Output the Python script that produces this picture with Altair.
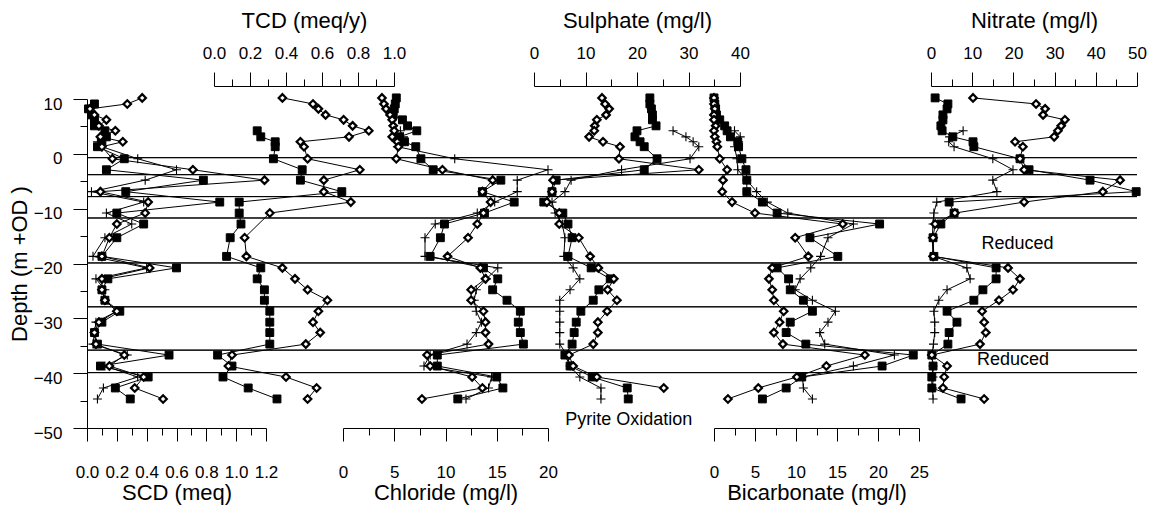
import altair as alt
import pandas as pd

N = None
FONT = "Liberation Sans, Arial, sans-serif"

# Sampling depths (m +OD), top to bottom
DEPTHS = [10.2, 9.1, 8.2, 7.1, 6.2, 5.1, 4.2, 3.1, 2.2, 1.3, -0.9, -2.9, -4.8, -6.9, -8.8, -10.8,
          -12.8, -15.3, -18.7, -20.8, -22.8, -24.8, -26.7, -28.7, -30.7, -32.6, -34.7, -36.7,
          -38.7, -40.7, -42.7, -44.7]

# SCD (meq)
SCD_SQUARE = [N, 0.05, 0.01, 0.03, 0.05, 0.05, 0.12, 0.13, 0.10, 0.07, 0.25, 0.13, 0.78, 0.26, 0.89, 0.20,
              0.38, 0.20, 0.10, 0.60, 0.14, 0.10, 0.12, 0.22, 0.10, 0.05, 0.07, 0.55, 0.09, 0.41, 0.19, 0.29]
SCD_PLUS = [N, N, N, N, N, N, N, 0.09, 0.07, 0.10, 0.34, 0.60, 0.39, 0.03, 0.38, 0.13,
            0.30, 0.12, 0.04, 0.40, 0.06, 0.12, 0.12, 0.20, 0.06, 0.05, 0.04, 0.27, 0.12, 0.34, 0.11, 0.07]
SCD_DIAMOND = [0.37, 0.27, 0.02, 0.05, 0.13, 0.08, 0.19, 0.09, 0.24, 0.10, 0.17, 0.71, 1.19, 0.09, 0.41, 0.39,
               0.20, 0.15, 0.10, 0.42, 0.10, 0.10, 0.12, 0.20, 0.08, 0.05, 0.06, 0.25, 0.15, 0.38, 0.32, 0.51]

# TCD (meq/y)
TCD_SQUARE = [N, N, N, N, N, N, 0.24, 0.26, 0.34, 0.34, 0.33, 0.49, 0.48, 0.71, 0.14, 0.14,
              0.15, 0.09, 0.07, 0.26, 0.24, 0.28, 0.28, 0.31, 0.31, 0.31, 0.31, 0.02, 0.10, 0.05, 0.19, 0.35]
TCD_DIAMOND = [0.38, 0.55, 0.58, 0.62, 0.72, 0.77, 0.86, 0.75, 0.48, 0.50, 0.52, 0.81, 0.61, 0.61, 0.76, 0.31,
               N, 0.17, 0.18, 0.38, 0.45, 0.52, 0.63, 0.58, 0.55, 0.59, 0.51, 0.10, 0.08, 0.40, 0.57, 0.52]

# Chloride (mg/l)
CL_SQUARE = [5.2, 5.1, 5.0, 4.9, 5.8, 6.3, 7.2, 5.5, 6.0, 7.1, 7.6, 8.8, 15.4, 13.6, 16.7, 13.8,
             9.9, 9.5, 8.5, 13.7, 15.1, 14.6, 16.0, 17.3, 17.1, 17.3, 17.6, 9.2, 9.2, 15.0, 15.6, 11.2]
CL_PLUS = [N, N, N, N, N, N, 5.6, 5.9, 5.7, 5.3, 10.9, 20.0, 17.0, 17.0, 14.8, 13.1,
           9.0, 8.0, 8.0, 15.1, 14.0, 13.0, 12.8, 13.0, 13.5, 13.0, 12.1, 8.5, 7.9, 14.5, 14.2, 12.0]
CL_DIAMOND = [3.8, 4.0, 4.2, 4.6, 4.8, 4.9, 5.0, 4.8, 5.3, 5.4, 5.2, 9.7, 14.6, 13.6, 14.4, 13.7,
              13.1, 12.2, 10.2, 13.4, 13.9, 12.5, 12.5, 13.7, 13.9, 13.9, 14.2, 8.2, 8.5, 12.6, 13.6, 7.7]

# Sulphate (mg/l)
SO4_SQUARE = [22.5, 22.5, 22.8, 23.0, 23.0, 23.7, 20.0, 19.6, 20.6, 21.4, 23.9, 21.4, 4.3, 3.5, 1.9, 5.6,
              6.6, 7.4, 6.6, 11.1, 14.8, 12.6, 11.5, 9.1, 8.2, 7.8, 7.4, 6.0, 7.0, 11.3, 18.1, 18.3]
SO4_PLUS = [N, N, N, N, N, N, 27.0, 29.5, 30.9, 32.0, 30.3, 17.0, 7.2, 6.0, 3.5, 4.1,
            5.5, 6.0, 5.8, 7.6, 8.9, 7.0, 5.0, 5.0, 5.0, 5.0, 5.0, 6.4, 7.0, 8.9, 13.0, 13.0]
SO4_DIAMOND = [13.2, 13.8, 14.6, 14.0, 12.2, 11.8, 11.7, 10.7, 13.4, 16.7, 16.5, 32.0, 3.7, 3.5, 2.5, 4.9,
               4.9, 8.7, 10.9, 12.5, 15.5, 14.3, 16.1, 14.2, 12.4, 12.4, 11.5, 6.8, 7.6, 12.2, 25.2, N]

# Bicarbonate (mg/l)
HCO3_SQUARE = [0.0, 0.1, 0.2, 0.3, 0.7, 1.3, 1.6, 2.0, 2.9, 3.0, 3.4, 3.9, 4.0, 4.0, 5.9, 7.7,
               20.2, 11.7, 15.1, 7.7, 9.1, 9.3, 10.9, 12.0, 9.3, 8.8, 11.2, 24.3, 20.5, 10.7, 8.8, 5.9]
HCO3_PLUS = [N, N, N, N, N, N, 2.5, 3.2, 3.0, 2.5, 2.8, 2.9, 4.0, 5.2, 6.5, 9.0,
             17.0, 13.9, 13.0, 11.8, 10.5, 9.9, 12.0, 14.8, 13.9, 12.9, 13.5, 22.0, 17.0, 10.8, 10.9, 12.0]
HCO3_DIAMOND = [0.0, 0.0, 0.1, 0.0, 0.0, 0.2, 0.0, 0.1, 0.3, 0.4, 0.7, 1.6, 1.1, 1.0, 2.2, 5.0,
                15.7, 9.9, 11.5, 7.1, 6.7, 7.1, 7.3, 8.5, 8.0, 7.3, 8.4, 18.4, 13.7, 10.1, 5.4, 1.7]

# Nitrate (mg/l)
NO3_SQUARE = [1.0, 4.1, 3.9, 2.9, 2.9, 2.4, 2.7, 5.3, 10.2, 10.4, 21.6, 23.8, 38.6, 49.8, 4.4, 5.6,
              2.4, 0.5, 0.7, 15.8, 15.8, 12.6, 10.4, 3.9, 6.3, 4.4, 4.1, 0.2, 0.5, 0.2, 0.2, 7.3]
NO3_PLUS = [N, N, N, N, N, N, 7.8, 4.5, 4.3, 5.6, 15.0, 19.9, 15.0, 16.0, 1.4, 0.7,
            0.5, 0.3, 0.5, 8.7, 9.5, 3.9, 1.9, 0.7, 0.9, 0.9, 0.6, 0.2, 0.5, 0.5, 0.4, 0.5]
NO3_DIAMOND = [10.2, 25.5, 27.7, 27.2, 32.5, 31.6, 30.8, 29.9, 20.4, 22.3, 21.6, 22.6, 45.9, 41.7, 22.6, 5.8,
               1.0, 0.5, 0.5, 18.7, 21.6, 19.9, 16.5, 12.4, 12.9, 13.3, 11.9, 0.2, 3.9, 3.2, 2.9, 12.9]

# Horizontal zone boundaries (m +OD)
BOUNDARIES = [-0.7, -3.8, -7.8, -11.7, -19.9, -27.9, -35.8, -39.9]

# Axis ticks
DEPTH_MAJOR = [-50, -40, -30, -20, -10, 0, 10]
DEPTH_MINOR = [-45, -35, -25, -15, -5, 5]

# Annotations
NO3_NOTE_TEXT = ["Reduced", "Reduced"]
NO3_NOTE_X = [21.0, 19.9]
NO3_NOTE_DEPTH = [-16.4, -37.6]
SO4_NOTE_TEXT = ["Pyrite Oxidation"]
SO4_NOTE_X = [18.4]
SO4_NOTE_DEPTH = [-48.5]

MARKERS = {
    "square": dict(shape="square", size=62, filled=True, fill="black", stroke="black", strokeWidth=1),
    "plus": dict(shape="M-1,0H1M0,-1V1", size=81, filled=False, stroke="black", strokeWidth=1.1),
    "diamond": dict(shape="diamond", size=56, filled=True, fill="white", stroke="black", strokeWidth=2.2),
}


def long_frame(series_map):
    rows = []
    for name, vals in series_map.items():
        for i, (d, v) in enumerate(zip(DEPTHS, vals)):
            if v is not None:
                rows.append({"series": name, "idx": i, "depth": d, "value": v})
    return pd.DataFrame(rows)


yscale = alt.Scale(domain=[-50, 10], nice=False, zero=False)
y_plain = alt.Y("depth:Q", scale=yscale, axis=None)


def panel(series_map, domain, rng, major, minor, fmt, orient, title, notes=None):
    df = long_frame(series_map)
    xs = alt.Scale(domain=domain, range=rng, nice=False, zero=False)
    top = orient == "top"
    major_axis = alt.Axis(
        orient=orient, values=major, format=fmt, title=title,
        tickSize=14 if top else 13,
        offset=13 if top else 0,
        labelPadding=10 if top else 23,
        titlePadding=12 if top else 2,
        labelFlush=False, labelOverlap=False, grid=False,
    )
    minor_axis = alt.Axis(
        orient=orient, values=minor, title=None, labels=False, domain=False,
        tickSize=7, offset=13 if top else 0, grid=False,
    )
    base = alt.Chart(df)
    line = base.mark_line(color="black", strokeWidth=1).encode(
        x=alt.X("value:Q", scale=xs, axis=major_axis),
        y=y_plain,
        detail="series:N",
        order=alt.Order("idx:Q"),
    )
    layers = [line]
    first = True
    for name in series_map:
        m = MARKERS[name]
        pts = base.transform_filter(alt.datum.series == name).mark_point(opacity=1, **m).encode(
            x=alt.X("value:Q", scale=xs, axis=minor_axis if first else None),
            y=y_plain,
        )
        first = False
        layers.append(pts)
    if notes is not None:
        ndf = pd.DataFrame({"value": notes[0], "depth": notes[1], "label": notes[2]})
        txt = alt.Chart(ndf).mark_text(font=FONT, fontSize=18, color="black",
                                       align="center", baseline="middle").encode(
            x=alt.X("value:Q", scale=xs, axis=None), y=y_plain, text="label:N")
        layers.append(txt)
    return alt.layer(*layers).resolve_axis(x="independent")


p_scd = panel({"square": SCD_SQUARE, "plus": SCD_PLUS, "diamond": SCD_DIAMOND},
              [0, 1.2], [0, 179], [0.0, 0.2, 0.4, 0.6, 0.8, 1.0, 1.2], [0.1, 0.3, 0.5, 0.7, 0.9, 1.1],
              ".1f", "bottom", "SCD (meq)")
p_tcd = panel({"square": TCD_SQUARE, "diamond": TCD_DIAMOND},
              [0, 1.0], [127, 307], [0.0, 0.2, 0.4, 0.6, 0.8, 1.0], [0.1, 0.3, 0.5, 0.7, 0.9],
              ".1f", "top", "TCD (meq/y)")
p_cl = panel({"square": CL_SQUARE, "plus": CL_PLUS, "diamond": CL_DIAMOND},
             [0, 20], [256, 461], [0, 5, 10, 15, 20], [2.5, 7.5, 12.5, 17.5],
             "d", "bottom", "Chloride (mg/l)")
p_so4 = panel({"square": SO4_SQUARE, "plus": SO4_PLUS, "diamond": SO4_DIAMOND},
              [0, 40], [447, 653], [0, 10, 20, 30, 40], [5, 15, 25, 35],
              "d", "top", "Sulphate (mg/l)", notes=(SO4_NOTE_X, SO4_NOTE_DEPTH, SO4_NOTE_TEXT))
p_hco3 = panel({"square": HCO3_SQUARE, "plus": HCO3_PLUS, "diamond": HCO3_DIAMOND},
               [0, 25], [627, 832], [0, 5, 10, 15, 20, 25], [2.5, 7.5, 12.5, 17.5, 22.5],
               "d", "bottom", "Bicarbonate (mg/l)")
p_no3 = panel({"square": NO3_SQUARE, "plus": NO3_PLUS, "diamond": NO3_DIAMOND},
              [0, 50], [844, 1050], [0, 10, 20, 30, 40, 50], [5, 15, 25, 35, 45],
              "d", "top", "Nitrate (mg/l)", notes=(NO3_NOTE_X, NO3_NOTE_DEPTH, NO3_NOTE_TEXT))

y_major = alt.Axis(
    orient="left", values=DEPTH_MAJOR, format="d", tickSize=14,
    title="Depth (m +OD )", labelPadding=11, titlePadding=2, labelOffset=5,
    labelOverlap=False, labelFlush=False, grid=False,
)
y_minor = alt.Axis(orient="left", values=DEPTH_MINOR, tickSize=7, labels=False,
                   domain=False, title=None, grid=False)

bdf = pd.DataFrame({"depth": BOUNDARIES})
rules = alt.Chart(bdf).mark_rule(color="black", strokeWidth=1).encode(
    y=alt.Y("depth:Q", scale=yscale, axis=y_major)
)
rules_minor = alt.Chart(bdf).mark_rule(color="black", strokeWidth=1).encode(
    y=alt.Y("depth:Q", scale=yscale, axis=y_minor)
)

chart = (
    alt.layer(rules, rules_minor, p_scd, p_tcd, p_cl, p_so4, p_hco3, p_no3)
    .resolve_scale(x="independent", y="shared")
    .resolve_axis(x="independent", y="independent")
    .properties(
        width=1050, height=329,
        autosize=alt.AutoSizeParams(type="none"),
        padding={"left": 79, "top": 91, "right": 10, "bottom": 80},
    )
    .configure_axis(
        domainColor="black", tickColor="black", labelColor="black", titleColor="black",
        labelFont=FONT, titleFont=FONT, labelFontSize=17, titleFontSize=22,
        titleFontWeight="normal", domainWidth=1, tickWidth=1,
    )
    .configure_view(stroke=None)
)

chart.save("out.html", embed_options={"renderer": "svg", "actions": False})
